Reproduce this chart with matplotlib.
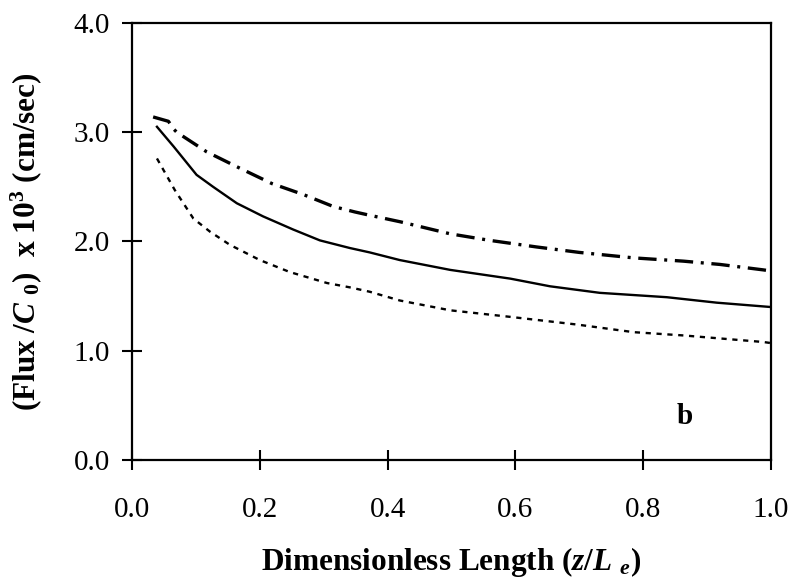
import matplotlib
matplotlib.use('Agg')
import matplotlib.pyplot as plt

plt.rcParams['font.family'] = ['Liberation Serif', 'DejaVu Serif']
plt.rcParams['mathtext.fontset'] = 'custom'
plt.rcParams['mathtext.rm'] = 'Liberation Serif:bold'
plt.rcParams['mathtext.it'] = 'Liberation Serif:italic:bold'
plt.rcParams['mathtext.bf'] = 'Liberation Serif:bold'

# dash-dot curve (top)
x_top = [0.033, 0.057, 0.065, 0.070, 0.117, 0.169, 0.219, 0.268, 0.315, 0.349,
         0.372, 0.42, 0.498, 0.56, 0.633, 0.70, 0.785, 0.863, 0.92, 0.988, 1.0]
y_top = [3.14, 3.10, 3.03, 3.00, 2.82, 2.67, 2.53, 2.43, 2.32, 2.27,
         2.24, 2.18, 2.07, 2.01, 1.95, 1.90, 1.85, 1.82, 1.79, 1.74, 1.73]

# solid curve (middle)
x_mid = [0.039, 0.065, 0.101, 0.127, 0.164, 0.205, 0.252, 0.294, 0.341, 0.372,
         0.419, 0.498, 0.592, 0.654, 0.732, 0.837, 0.915, 1.0]
y_mid = [3.05, 2.87, 2.61, 2.50, 2.35, 2.23, 2.11, 2.01, 1.94, 1.90,
         1.83, 1.74, 1.66, 1.59, 1.53, 1.49, 1.44, 1.40]

# dotted curve (bottom)
x_low = [0.039, 0.067, 0.096, 0.122, 0.153, 0.200, 0.247, 0.305, 0.341, 0.372,
         0.419, 0.498, 0.592, 0.696, 0.785, 0.863, 0.988, 1.0]
y_low = [2.76, 2.47, 2.21, 2.09, 1.97, 1.83, 1.72, 1.62, 1.58, 1.54,
         1.46, 1.37, 1.31, 1.24, 1.17, 1.14, 1.08, 1.07]

xticks = [0.0, 0.2, 0.4, 0.6, 0.8, 1.0]
yticks = [0.0, 1.0, 2.0, 3.0, 4.0]

fig = plt.figure(figsize=(7.93, 5.88), dpi=100)
ax = fig.add_axes([0.1665, 0.2177, 0.8058, 0.7432])

ax.plot(x_top, y_top, color='black', lw=2.4, linestyle=(0, (5.5, 2.3, 0.9, 2.3)))
ax.plot(x_mid, y_mid, color='black', lw=1.7, linestyle='-')
ax.plot(x_low, y_low, color='black', lw=1.7, linestyle=(0, (2.2, 2.4)))

ax.set_xlim(0, 1.0)
ax.set_ylim(0, 4.0)
ax.set_xticks(xticks)
ax.set_yticks(yticks)
ax.set_xticklabels(['%.1f' % v for v in xticks])
ax.set_yticklabels(['%.1f' % v for v in yticks])
ax.tick_params(axis='both', direction='inout', length=14, width=1.5, labelsize=21)
ax.tick_params(axis='x', pad=20)
ax.tick_params(axis='y', pad=9)
for s in ax.spines.values():
    s.set_linewidth(1.6)

ax.text(0.865, 0.40, 'b', fontsize=21, fontweight='bold', ha='center', va='center')

ax.set_xlabel(r'Dimensionless Length ($z/L$ $_{e}$)', fontsize=22.5, fontweight='bold')
ax.xaxis.label.set_va('center')
ax.xaxis.set_label_coords(0.5, -0.234)
ax.set_ylabel(r'(Flux /$C$ $_{\mathit{0}}$)  x 10$^{3}$ (cm/sec)', fontsize=22.5, fontweight='bold')
ax.yaxis.label.set_va('center')
ax.yaxis.set_label_coords(-0.165, 0.5)

fig.savefig('out.png', dpi=100)
